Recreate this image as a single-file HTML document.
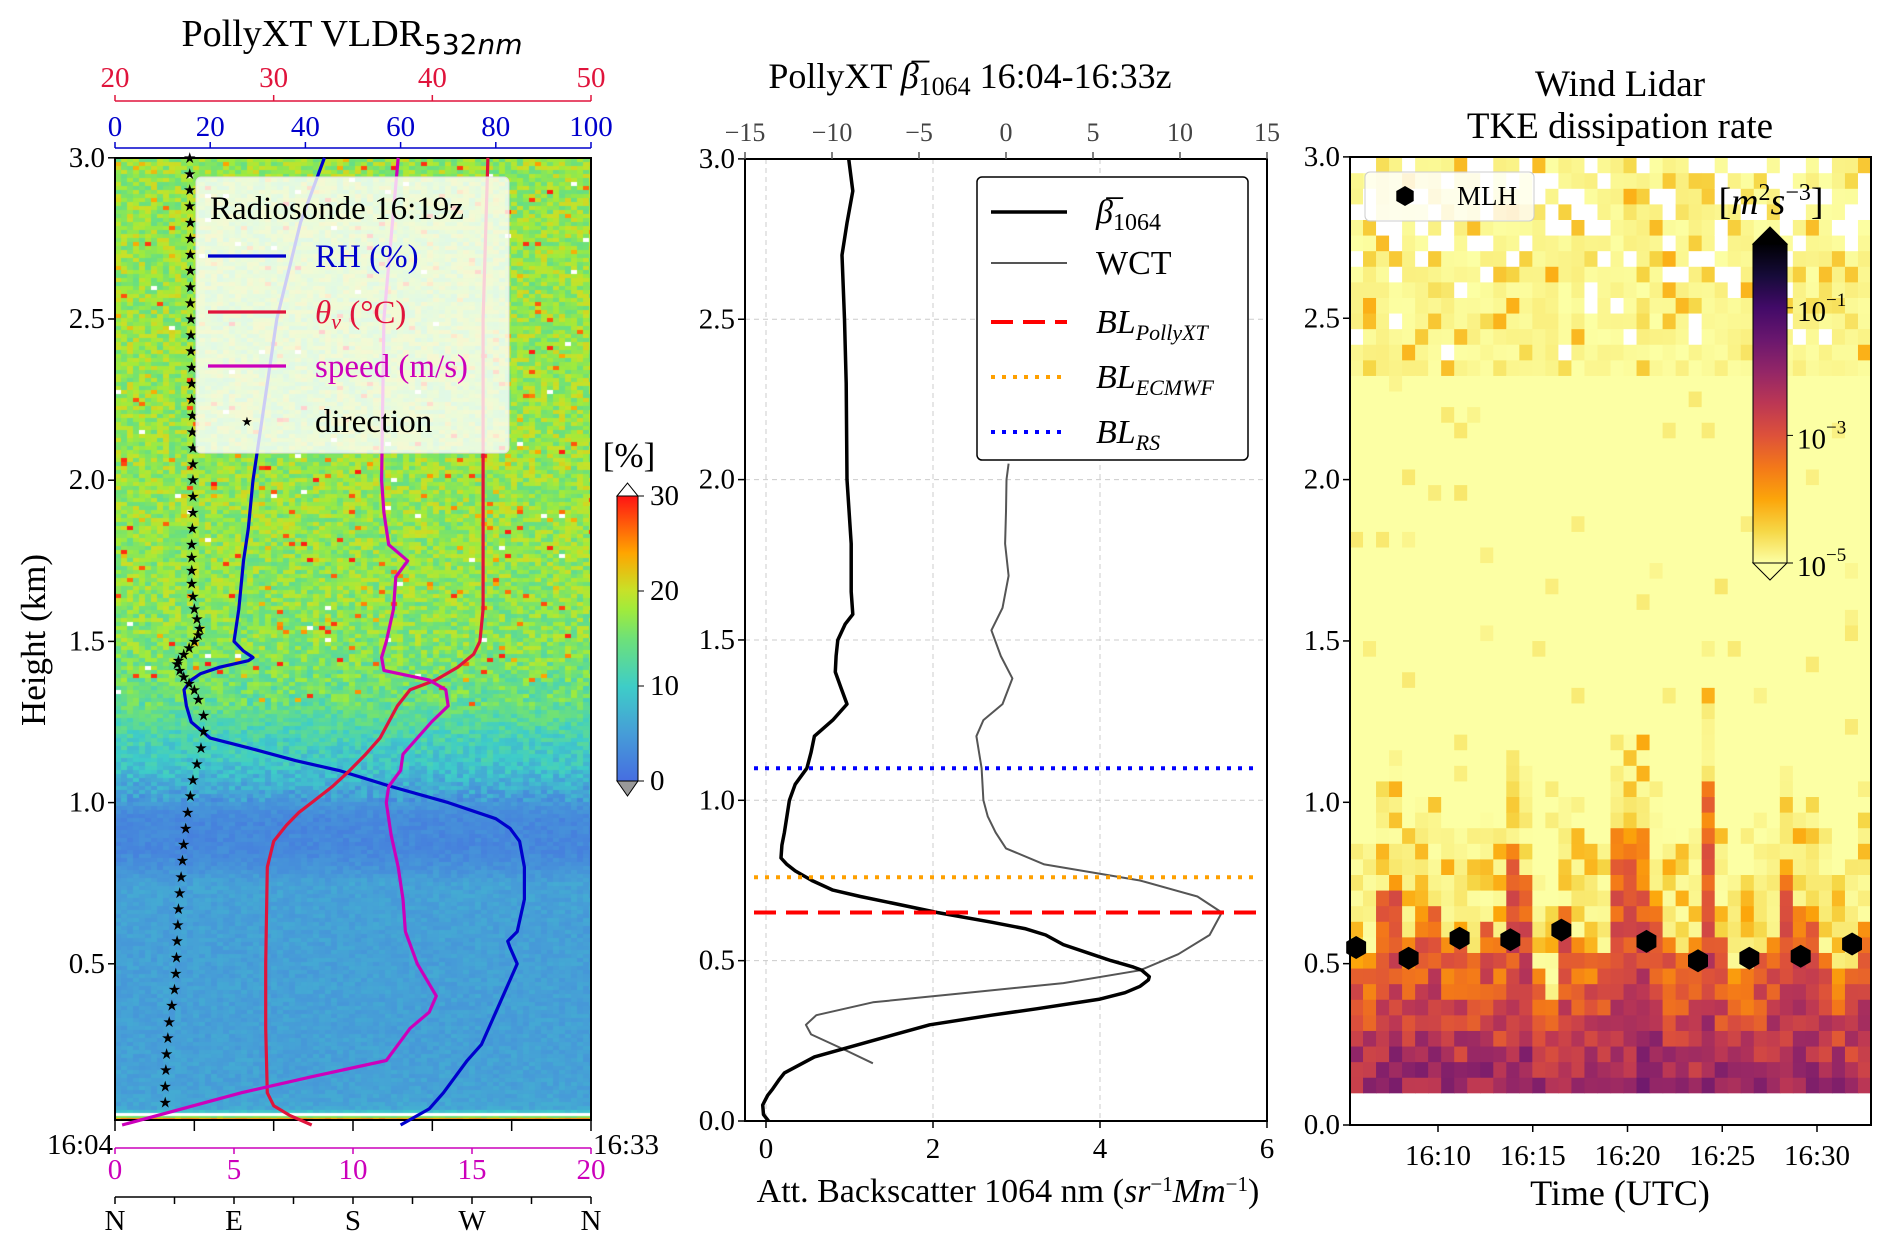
<!DOCTYPE html>
<html><head><meta charset="utf-8"><style>
html,body{margin:0;padding:0;background:#fff;}
#wrap{position:relative;width:1892px;height:1247px;overflow:hidden;}
canvas,svg{position:absolute;left:0;top:0;}
text{font-family:"Liberation Serif",serif;}
</style></head><body>
<div id="wrap">
<canvas id="hm1" width="476" height="962" style="left:115px;top:158px"></canvas>
<svg id="svg" width="1892" height="1247" xmlns="http://www.w3.org/2000/svg"></svg>
</div>
<script>
// ---------- DATA ----------
const vldrHeights=[0,0.02,0.03,0.05,0.1,0.3,0.6,0.75,0.8,0.85,0.95,1.0,1.05,1.1,1.2,1.3,1.5,2.0,3.0];
const vldrMean=[8,30,12,6,5.5,5.3,5.3,5.5,3.8,2.8,2.8,4.5,6.5,8.5,11,14,16.5,17.5,17.5];
const rhH=[0,0.05,0.1,0.2,0.25,0.35,0.45,0.5,0.55,0.57,0.6,0.7,0.8,0.88,0.92,0.95,1.0,1.05,1.1,1.13,1.17,1.2,1.25,1.3,1.35,1.38,1.4,1.42,1.44,1.45,1.47,1.5,1.6,1.75,1.85,2.0,2.2,2.5,2.8,3.0];
const rhV=[60,66,69,74,77,80,83,84.5,83,82.5,84.5,86,86,85,83,80,70,58,47,38,28,20,16,15,14.5,16,18,22,28,29,27,25,26,27,28,29,31,34,39,44];
const thH=[0,0.03,0.06,0.1,0.3,0.5,0.8,0.88,0.93,0.97,1.0,1.05,1.1,1.15,1.2,1.3,1.35,1.38,1.42,1.46,1.5,1.6,2.0,2.5,3.0];
const thV=[32.4,31.0,30.0,29.6,29.5,29.5,29.6,30.0,30.8,31.6,32.4,33.7,34.8,35.8,36.7,37.8,38.6,40.2,41.6,42.6,43.0,43.2,43.2,43.2,43.5];
const spH=[0,0.05,0.1,0.15,0.2,0.25,0.3,0.35,0.4,0.45,0.5,0.6,0.7,0.8,0.9,1.0,1.05,1.1,1.15,1.25,1.3,1.35,1.38,1.41,1.45,1.5,1.6,1.7,1.75,1.8,1.9,2.0,2.5,3.0];
const spV=[0.3,2.8,5.3,8.3,11.4,11.9,12.4,13.2,13.5,13.1,12.7,12.2,12.1,11.9,11.6,11.4,11.5,12.0,12.1,13.3,14.0,13.9,13.2,11.3,11.2,11.4,11.7,11.8,12.3,11.5,11.3,11.2,11.3,11.9];
const dirH=[0.07,0.12,0.17,0.22,0.27,0.32,0.37,0.42,0.47,0.52,0.57,0.62,0.67,0.72,0.77,0.82,0.87,0.92,0.97,1.02,1.07,1.12,1.17,1.22,1.27,1.32,1.35,1.37,1.39,1.41,1.43,1.44,1.46,1.48,1.5,1.52,1.54,1.57,1.6,1.64,1.68,1.72,1.76,1.8,1.85,1.9,1.95,2.0,2.05,2.1,2.15,2.2,2.25,2.3,2.35,2.4,2.45,2.5,2.55,2.6,2.65,2.7,2.75,2.8,2.85,2.9,2.95,3.0];
const dirV=[38,38,38.5,39,40,41,43,45,46,46.5,47,47.5,48,49,50,51,52,53.5,55,57,59,62,65,67,67,63,60,56,52,49,47,48,52,56,60,63,64,62,60,59,58,58,58,58,58.5,59,59,59,59,59,58.5,58.5,58,58,58,57.5,57.5,57.5,57,57,57,57,57,57,56.5,56.5,56.5,56.5];
const betaH=[0,0.02,0.05,0.08,0.1,0.13,0.15,0.2,0.25,0.3,0.33,0.35,0.38,0.4,0.42,0.44,0.45,0.47,0.48,0.5,0.52,0.55,0.58,0.6,0.62,0.65,0.68,0.7,0.72,0.75,0.78,0.8,0.82,0.86,0.9,1.0,1.05,1.1,1.15,1.2,1.25,1.3,1.35,1.4,1.45,1.5,1.55,1.58,1.65,1.8,2.0,2.3,2.5,2.7,2.8,2.9,3.0];
const betaV=[0.03,-0.03,-0.04,0.02,0.08,0.16,0.22,0.58,1.27,1.96,2.7,3.24,4.0,4.3,4.48,4.58,4.59,4.5,4.4,4.13,3.9,3.56,3.35,3.1,2.7,2.05,1.5,1.13,0.8,0.55,0.35,0.25,0.18,0.19,0.22,0.28,0.35,0.49,0.54,0.58,0.8,0.97,0.9,0.83,0.84,0.86,0.95,1.04,1.02,1.02,0.97,0.96,0.94,0.91,0.97,1.04,0.99];
const wctH=[0.18,0.22,0.27,0.3,0.33,0.37,0.4,0.43,0.47,0.52,0.58,0.65,0.7,0.75,0.8,0.85,0.9,0.95,1.0,1.1,1.2,1.25,1.3,1.38,1.45,1.53,1.6,1.7,1.8,1.9,2.0,2.05];
const wctV=[-7.65,-9.2,-11.2,-11.5,-10.9,-7.65,-2.2,3.3,7.7,9.9,11.7,12.4,11.0,7.7,2.2,0.0,-0.6,-1.05,-1.3,-1.4,-1.7,-1.3,-0.2,0.37,-0.3,-0.84,-0.2,0.15,-0.05,0.0,0.03,0.15];
const blNames=["PollyXT","ECMWF","RS"];
const blHeights=[0.65,0.76,1.10];
const tkeColTop=[0.55,0.55,0.75,0.8,0.6,0.7,0.7,0.6,0.6,0.55,0.65,0.6,0.85,0.8,0.5,0.4,0.7,0.6,0.55,0.55,0.9,0.9,0.9,0.75,0.6,0.55,0.6,1.05,0.6,0.5,0.5,0.55,0.6,0.8,0.7,0.7,0.55,0.5,0.5,0.65];
const mlhTime=[5.68,8.45,11.14,13.82,16.51,21.0,23.72,26.43,29.14,31.85];
const mlhHeight=[0.55,0.517,0.579,0.574,0.604,0.569,0.509,0.517,0.523,0.561];
const timeTicks=[10,15,20,25,30];
const timeLabels=["16:10","16:15","16:20","16:25","16:30"];
const cbTicks=[-1,-3,-5];

// ---------- helpers ----------
const NS="http://www.w3.org/2000/svg";
const svg=document.getElementById('svg');
const FT=29;
function el(tag,attrs,parent){const e=document.createElementNS(NS,tag);for(const k in attrs)e.setAttribute(k,attrs[k]);(parent||svg).appendChild(e);return e;}
function txt(x,y,s,attrs,parent){const e=el('text',Object.assign({x:x,y:y,'font-size':FT,'text-anchor':'middle'},attrs||{}),parent);e.innerHTML=s;return e;}
function hash(i,j,k){let h=(i*374761393+j*668265263+(k||0)*1442695041)|0;h=(h^(h>>>13))*1274126177|0;h=h^(h>>>16);return ((h>>>0)%100000)/100000;}
function interp(xs,ys,x){if(x<=xs[0])return ys[0];for(let i=1;i<xs.length;i++){if(x<=xs[i]){const t=(x-xs[i-1])/(xs[i]-xs[i-1]);return ys[i-1]+t*(ys[i]-ys[i-1]);}}return ys[ys.length-1];}
function lerpC(stops,t){t=Math.max(0,Math.min(1,t));for(let i=1;i<stops.length;i++){if(t<=stops[i][0]){const a=stops[i-1],b=stops[i];const u=(t-a[0])/(b[0]-a[0]);const c1=a[1],c2=b[1];return 'rgb('+[0,1,2].map(k=>Math.round(c1[k]+u*(c2[k]-c1[k]))).join(',')+')';}}const c=stops[stops.length-1][1];return 'rgb('+c.join(',')+')';}
const jet=[[0,[70,110,225]],[0.17,[70,158,215]],[0.33,[62,205,200]],[0.5,[110,225,120]],[0.6,[160,235,60]],[0.67,[200,225,40]],[0.8,[255,165,0]],[1,[255,20,20]]];
const inferno=[[0,[252,255,164]],[0.1,[246,215,70]],[0.2,[252,165,10]],[0.3,[243,120,25]],[0.4,[221,81,58]],[0.5,[188,55,84]],[0.6,[147,38,103]],[0.7,[106,23,110]],[0.8,[66,10,104]],[0.9,[22,11,57]],[1,[0,0,4]]];

// ---------- PANEL 1 ----------
const p1L=115,p1R=591,p1T=158,p1B=1120;
const y1=h=>1125-h*322.4;
const xRH=v=>p1L+v/100*(p1R-p1L);
const xTH=v=>p1L+(v-20)/30*(p1R-p1L);
const xSP=v=>p1L+v/20*(p1R-p1L);
const xDIR=v=>p1L+v/360*(p1R-p1L);
(function(){
 const c=document.getElementById('hm1').getContext('2d');
 const cw=6,ch=4;
 for(let j=0;j*ch<962;j++){
  const yy=j*ch;const h=(1125-(158+yy+ch/2))/322.4;
  const m=interp(vldrHeights,vldrMean,h);
  const amp=h>1.3?3.5:(h>1.0?2.5:1.0);
  for(let i=0;i*cw<476;i++){
   let v=m+(hash(i,j)-0.5)*2*amp;
   if(h>1.3&&hash(i,j,3)>0.975)v=22+hash(i,j,4)*8;
   let col=lerpC(jet,v/30);
   if(h>1.3&&hash(i,j,5)>0.995)col='#fff';
   c.fillStyle=col;c.fillRect(i*cw,yy,cw,ch);
  }
 }
 c.fillStyle='#fff';c.fillRect(0,962-7,476,3);
})();
const g1=el('g',{});
el('rect',{x:p1L,y:p1T,width:p1R-p1L,height:p1B-p1T,fill:'none',stroke:'#000','stroke-width':2},g1);
function poly(xs,ys,fx,fy,attrs,parent){const pts=xs.map((h,i)=>fx(ys[i]).toFixed(1)+','+fy(h).toFixed(1)).join(' ');return el('polyline',Object.assign({points:pts,fill:'none','stroke-linejoin':'round'},attrs),parent);}
poly(rhH,rhV,xRH,y1,{stroke:'#0000cc','stroke-width':3.2,},g1);
poly(thH,thV,xTH,y1,{stroke:'#e0143c','stroke-width':3.2,},g1);
poly(spH,spV,xSP,y1,{stroke:'#cc00bb','stroke-width':3.2,},g1);
const gd=el('g',{},g1);
dirH.forEach((h,i)=>{const t=txt(xDIR(dirV[i]),y1(h)+5,'★',{'font-size':15,'font-family':'DejaVu Sans',fill:'#000'},gd);

});
const lg=el('g',{},g1);
el('rect',{x:196,y:177,width:313,height:276,rx:5,fill:'#fff','fill-opacity':0.8,stroke:'#ddd'},lg);
txt(210,219,'Radiosonde 16:19z',{'text-anchor':'start','font-size':33},lg);
[['#0000cc','RH (%)',256],['#e0143c','<tspan font-style="italic">θ</tspan><tspan font-style="italic" font-size="22" dy="6">v</tspan><tspan dy="-6"> (°C)</tspan>',312],['#cc00bb','speed (m/s)',366]].forEach(e=>{
 el('line',{x1:208,x2:286,y1:e[2],y2:e[2],stroke:e[0],'stroke-width':3.2},lg);
 txt(315,e[2]+11,e[1],{'text-anchor':'start','font-size':33,fill:e[0]},lg);});
txt(247,426,'★',{'font-size':13,'font-family':'DejaVu Sans'},lg);
txt(315,432,'direction',{'text-anchor':'start','font-size':33},lg);
[0.5,1.0,1.5,2.0,2.5,3.0].forEach(v=>{el('line',{x1:p1L-7,x2:p1L,y1:y1(v),y2:y1(v),stroke:'#000','stroke-width':1.5},g1);txt(p1L-10,y1(v)+9,v.toFixed(1),{'text-anchor':'end'},g1);});
txt(0,0,'Height (km)',{'font-size':35,transform:'translate(45,640) rotate(-90)',});
const red='#e0143c',blue='#0000cc',mag='#cc00bb';
el('line',{x1:p1L,x2:p1R,y1:101,y2:101,stroke:red,'stroke-width':1.5},g1);
[20,30,40,50].forEach(v=>{el('line',{x1:xTH(v),x2:xTH(v),y1:95,y2:101,stroke:red,'stroke-width':1.5},g1);txt(xTH(v),87,v,{fill:red},g1);});
el('line',{x1:p1L,x2:p1R,y1:148,y2:148,stroke:blue,'stroke-width':1.5},g1);
[0,20,40,60,80,100].forEach(v=>{el('line',{x1:xRH(v),x2:xRH(v),y1:142,y2:148,stroke:blue,'stroke-width':1.5},g1);txt(xRH(v),136,v,{fill:blue},g1);});
txt(352,46,'PollyXT VLDR<tspan font-size="28" dy="8" font-family="DejaVu Sans">532<tspan font-style="italic">nm</tspan></tspan>',{'font-size':38,});
for(let i=0;i<7;i++){const x=p1L+i*(p1R-p1L)/6;el('line',{x1:x,x2:x,y1:p1B,y2:p1B+11,stroke:'#000','stroke-width':1.5},g1);}
txt(80,1154,'16:04',{},g1);txt(626,1154,'16:33',{},g1);
el('line',{x1:p1L,x2:p1R,y1:1148,y2:1148,stroke:mag,'stroke-width':1.5},g1);
[0,5,10,15,20].forEach(v=>{el('line',{x1:xSP(v),x2:xSP(v),y1:1148,y2:1154,stroke:mag,'stroke-width':1.5},g1);txt(xSP(v),1179,v,{fill:mag},g1);});
el('line',{x1:p1L,x2:p1R,y1:1197,y2:1197,stroke:'#000','stroke-width':1.5},g1);
for(let i=0;i<=8;i++){const x=xDIR(i*45);el('line',{x1:x,x2:x,y1:1197,y2:1204,stroke:'#000','stroke-width':1.5},g1);}
['N','E','S','W','N'].forEach((s,i)=>txt(xDIR(i*90),1230,s,{},g1));
const cb1=el('g',{});
const d1=el('defs',{},cb1);const lgd=el('linearGradient',{id:'jetg',x1:0,y1:1,x2:0,y2:0},d1);
jet.forEach(s=>el('stop',{offset:s[0],'stop-color':'rgb('+s[1].join(',')+')'},lgd));
el('rect',{x:617,y:496,width:21,height:285,fill:'url(#jetg)',stroke:'#000','stroke-width':1},cb1);
el('polygon',{points:'617,496 627.5,483 638,496',fill:'#fff',stroke:'#000','stroke-width':1},cb1);
el('polygon',{points:'617,781 627.5,796 638,781',fill:'#999',stroke:'#000','stroke-width':1},cb1);
[0,10,20,30].forEach(v=>{const y=781-v/30*285;el('line',{x1:638,x2:644,y1:y,y2:y,stroke:'#000'},cb1);txt(650,y+9,v,{'text-anchor':'start'},cb1);});
txt(629,467,'[%]',{'font-size':35},cb1);

// ---------- PANEL 2 ----------
const p2L=745,p2R=1267,p2T=159,p2B=1121;
const y2=h=>1121-h*320.7;
const x2b=v=>766+v*(1267-766)/6;
const x2t=v=>745+(v+15)*(1267-745)/30;
const g2=el('g',{});
[0,2,4].forEach(v=>el('line',{x1:x2b(v),x2:x2b(v),y1:p2T,y2:p2B,stroke:'#ccc','stroke-dasharray':'5,4','stroke-width':1},g2));
[0.5,1,1.5,2,2.5].forEach(v=>el('line',{x1:p2L,x2:p2R,y1:y2(v),y2:y2(v),stroke:'#ccc','stroke-dasharray':'5,4','stroke-width':1},g2));
poly(wctH,wctV,x2t,y2,{stroke:'#555','stroke-width':2,},g2);
poly(betaH,betaV,x2b,y2,{stroke:'#000','stroke-width':3.5,},g2);
const blStyles=[{stroke:'#ff0000','stroke-dasharray':'22,10','stroke-width':4},{stroke:'#ffa000','stroke-dasharray':'4,7','stroke-width':4},{stroke:'#0000ff','stroke-dasharray':'4,7','stroke-width':4}];
blHeights.forEach((h,i)=>{const l=el('line',Object.assign({x1:754,x2:i==0?1267:1259,y1:y2(h),y2:y2(h)},blStyles[i]),g2);

});
el('rect',{x:p2L,y:p2T,width:p2R-p2L,height:p2B-p2T,fill:'none',stroke:'#000','stroke-width':2},g2);
[0,0.5,1,1.5,2,2.5,3].forEach(v=>{el('line',{x1:p2L-7,x2:p2L,y1:y2(v),y2:y2(v),stroke:'#000','stroke-width':1.5},g2);txt(p2L-10,y2(v)+9,v.toFixed(1),{'text-anchor':'end'},g2);});
[0,2,4,6].forEach(v=>{el('line',{x1:x2b(v),x2:x2b(v),y1:p2B,y2:p2B+7,stroke:'#000','stroke-width':1.5},g2);txt(x2b(v),1158,v,{},g2);});
[-15,-10,-5,0,5,10,15].forEach(v=>{el('line',{x1:x2t(v),x2:x2t(v),y1:p2T-7,y2:p2T,stroke:'#555','stroke-width':1.5},g2);txt(x2t(v),141,(v<0?'−':'')+Math.abs(v),{fill:'#444','font-size':26},g2);});
txt(970,88,'PollyXT  <tspan font-style="italic">β̅</tspan><tspan font-size="26" dy="7">1064</tspan><tspan dy="-7">  16:04-16:33z</tspan>',{'font-size':36,});
txt(1008,1202,'Att. Backscatter 1064 nm (<tspan font-style="italic">sr</tspan><tspan font-size="21" dy="-11">−1</tspan><tspan dy="11" font-style="italic">Mm</tspan><tspan font-size="21" dy="-11">−1</tspan><tspan dy="11">)</tspan>',{'font-size':34,});
const lg2=el('g',{});
el('rect',{x:977,y:177,width:271,height:283,rx:5,fill:'#fff',stroke:'#000','stroke-width':1.5},lg2);
const l2=[[{stroke:'#000','stroke-width':3.5},'<tspan font-style="italic">β̅</tspan><tspan font-size="24" dy="7">1064</tspan>'],
 [{stroke:'#555','stroke-width':2},'WCT'],
 [blStyles[0],'<tspan font-style="italic">BL</tspan><tspan font-style="italic" font-size="22" dy="7">PollyXT</tspan>'],
 [blStyles[1],'<tspan font-style="italic">BL</tspan><tspan font-style="italic" font-size="22" dy="7">ECMWF</tspan>'],
 [blStyles[2],'<tspan font-style="italic">BL</tspan><tspan font-style="italic" font-size="22" dy="7">RS</tspan>']];
[212,263,322,377,432].forEach((y,i)=>{el('line',Object.assign({x1:991,x2:1067,y1:y,y2:y},l2[i][0]),lg2);txt(1096,y+11,l2[i][1],{'text-anchor':'start','font-size':34},lg2);});

// ---------- PANEL 3 ----------
const p3L=1350,p3R=1871,p3T=157,p3B=1125;
const y3=h=>1125-h*322.7;
const x3=m=>1438+(m-10)*18.95;
const g3=el('g',{});
const gh=el('g',{},g3);
const nCol=tkeColTop.length,nRow=60,cw3=(p3R-p3L)/nCol,rh3=(y3(0.1)-p3T)/nRow;
for(let i=0;i<nCol;i++){const top=tkeColTop[i];
 for(let j=0;j<nRow;j++){const h=0.1+(j+0.5)*2.9/nRow;let lv;let white=false;
  if(h<top){const f=(top-h)/top;lv=-3.6+f*1.9+(hash(i,j)-0.5)*1.1;}
  else if(h<top+0.3){const r=hash(i,j);lv=r>0.7?-4.3+(hash(i,j,2)-0.5)*0.6:-5+hash(i,j,2)*0.3;}
  else if(h<2.3){lv=hash(i,j)>0.95?-4.7-hash(i,j,2)*0.2:-5;}
  else{const r=hash(i,j);const pw=(h-2.3)/0.7;if(r<pw*0.35)white=true;else if(r<0.12+pw*0.4)lv=-4.1-hash(i,j,2)*0.6;else lv=-5+hash(i,j,2)*0.2;}
  const c=white?'#fff':lerpC(inferno,(lv+5)/5);
  const r=el('rect',{x:(p3L+i*cw3).toFixed(2),y:(y3(0.1)-(j+1)*rh3).toFixed(2),width:(cw3+0.6).toFixed(2),height:(rh3+0.6).toFixed(2),fill:c},gh);
  
  
 }}
const gm=el('g',{},g3);
function hexP(cx,cy,r,parent){const pts=[];for(let k=0;k<6;k++){const a=k*Math.PI/3;pts.push((cx+r*Math.sin(a)).toFixed(1)+','+(cy-r*Math.cos(a)).toFixed(1));}return el('polygon',{points:pts.join(' '),fill:'#000'},parent);}
mlhTime.forEach((t,i)=>{const p=hexP(x3(t),y3(mlhHeight[i]),11.5,gm);

});
el('rect',{x:p3L,y:p3T,width:p3R-p3L,height:p3B-p3T,fill:'none',stroke:'#000','stroke-width':2},g3);
[0,0.5,1,1.5,2,2.5,3].forEach(v=>{el('line',{x1:p3L-7,x2:p3L,y1:y3(v),y2:y3(v),stroke:'#000','stroke-width':1.5},g3);txt(p3L-10,y3(v)+9,v.toFixed(1),{'text-anchor':'end'},g3);});
timeTicks.forEach((t,i)=>{el('line',{x1:x3(t),x2:x3(t),y1:p3B,y2:p3B+7,stroke:'#000','stroke-width':1.5},g3);txt(x3(t),1165,timeLabels[i],{},g3);});
txt(1620,1205,'Time (UTC)',{'font-size':36,});
txt(1620,96,'Wind Lidar',{'font-size':37,});
txt(1620,138,'TKE dissipation rate',{'font-size':37});
const lg3=el('g',{});
el('rect',{x:1365,y:172,width:169,height:49,rx:5,fill:'#fff','fill-opacity':0.8,stroke:'#ccc'},lg3);
hexP(1405,196,10,lg3);
txt(1457,205,'MLH',{'text-anchor':'start','font-size':27},lg3);
const cb3=el('g',{});
const lg3g=el('linearGradient',{id:'infg',x1:0,y1:1,x2:0,y2:0},el('defs',{},cb3));
inferno.forEach(s=>el('stop',{offset:s[0],'stop-color':'rgb('+s[1].join(',')+')'},lg3g));
el('rect',{x:1753,y:244,width:34,height:319,fill:'url(#infg)',stroke:'#000','stroke-width':1},cb3);
el('polygon',{points:'1753,244 1770,227 1787,244',fill:'#000',stroke:'#000','stroke-width':1},cb3);
el('polygon',{points:'1753,563 1770,580 1787,563',fill:'#fcffa4',stroke:'#000','stroke-width':1},cb3);
const cbY=v=>563-(v+5)/5*319;
cbTicks.forEach(v=>{el('line',{x1:1787,x2:1793,y1:cbY(v),y2:cbY(v),stroke:'#000'},cb3);txt(1797,cbY(v)+13,'10<tspan font-size="19" dy="-15">−'+Math.abs(v)+'</tspan>',{'text-anchor':'start','font-size':29},cb3);});
txt(1771,214,'[<tspan font-style="italic">m</tspan><tspan font-size="24" dy="-14">2</tspan><tspan dy="14" font-style="italic">s</tspan><tspan font-size="24" dy="-14">−3</tspan><tspan dy="14">]</tspan>',{'font-size':38,'font-family':'DejaVu Sans',},cb3);
</script>
</body></html>
